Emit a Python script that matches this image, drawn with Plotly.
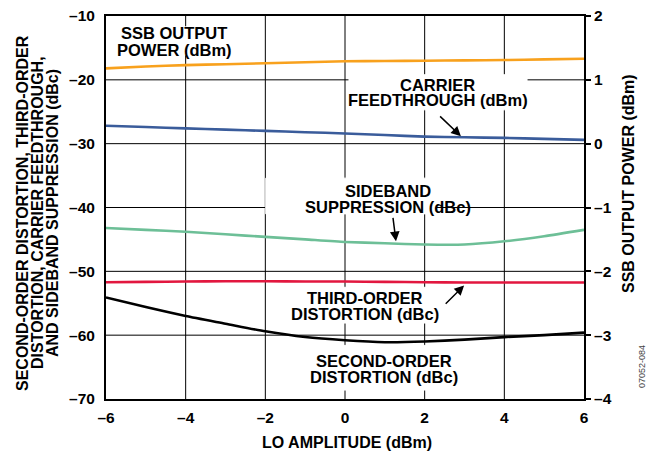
import plotly.graph_objects as go

lo_amplitude = [-6, -5, -4, -3, -2, -1, 0, 1, 2, 3, 4, 5, 6]
ssb_output_power = [1.18, 1.21, 1.23, 1.245, 1.26, 1.275, 1.29, 1.295, 1.30, 1.305, 1.31, 1.32, 1.33]
carrier_feedthrough = [-27.2, -27.4, -27.6, -27.8, -28.0, -28.2, -28.4, -28.65, -28.9, -29.0, -29.1, -29.25, -29.4]
sideband_suppression = [-43.2, -43.5, -43.8, -44.2, -44.6, -45.0, -45.4, -45.6, -45.8, -45.8, -45.3, -44.5, -43.5]
third_order = [-51.7, -51.65, -51.6, -51.55, -51.55, -51.6, -51.6, -51.65, -51.7, -51.75, -51.75, -51.75, -51.75]
second_order = [-54.1, -55.6, -57.0, -58.2, -59.4, -60.3, -60.8, -61.1, -61.0, -60.7, -60.3, -60.0, -59.6]

x_ticks = [-6, -4, -2, 0, 2, 4, 6]
y_left_ticks = [-70, -60, -50, -40, -30, -20, -10]
y_right_ticks = [-4, -3, -2, -1, 0, 1, 2]


def lab(v):
    return ("–" + str(abs(v))) if v < 0 else str(v)


FONT = "Liberation Sans, Arial, sans-serif"
fig = go.Figure()

# grid lines at the tick values (a trace beneath the data curves)
gx, gy = [], []
for v in x_ticks[1:-1]:
    gx += [v, v, None]
    gy += [y_left_ticks[0], y_left_ticks[-1], None]
for v in y_left_ticks[1:-1]:
    gx += [x_ticks[0], x_ticks[-1], None]
    gy += [v, v, None]
fig.add_trace(go.Scatter(x=gx, y=gy, mode="lines", hoverinfo="skip",
                         line=dict(color="black", width=1)))

line_kw = dict(shape="spline", smoothing=0.6, width=2.6)
fig.add_trace(go.Scatter(x=lo_amplitude, y=carrier_feedthrough, mode="lines",
                         line=dict(color="#3A5C9B", **line_kw)))
fig.add_trace(go.Scatter(x=lo_amplitude, y=sideband_suppression, mode="lines",
                         line=dict(color="#6DBF97", **line_kw)))
fig.add_trace(go.Scatter(x=lo_amplitude, y=third_order, mode="lines",
                         line=dict(color="#E2173F", **line_kw)))
fig.add_trace(go.Scatter(x=lo_amplitude, y=second_order, mode="lines",
                         line=dict(color="#000000", **line_kw)))
fig.add_trace(go.Scatter(x=lo_amplitude, y=ssb_output_power, mode="lines", yaxis="y2",
                         line=dict(color="#F8A11D", **line_kw)))

# white label boxes
shapes = []
boxes = [
    (-5.77, -2.76, -11.7, -16.1),
    (0.10, 4.57, -19.2, -24.7),
    (-1.99, 2.28, -35.4, -41.0),
    (-1.51, 2.39, -52.5, -58.1),
    (-1.0, 3.01, -61.6, -68.6),
]
for x0, x1, y0, y1 in boxes:
    shapes.append(dict(type="rect", xref="x", yref="y", x0=x0, x1=x1, y0=y0, y1=y1,
                       fillcolor="white", line=dict(color="white", width=1), layer="above"))

ann = []
AF = dict(family=FONT, size=16.5, color="black", weight="bold")


def txt(x, y, t):
    ann.append(dict(x=x, y=y, xref="x", yref="y", text=t, showarrow=False, font=AF))


txt(-4.29, -12.66, "SSB OUTPUT")
txt(-4.29, -15.33, "POWER (dBm)")
txt(2.33, -20.81, "CARRIER")
txt(2.33, -23.16, "FEEDTHROUGH (dBm)")
txt(1.08, -37.4, "SIDEBAND")
txt(1.08, -39.9, "SUPPRESSION (dBc)")
txt(0.50, -54.2, "THIRD-ORDER")
txt(0.50, -56.7, "DISTORTION (dBc)")
txt(0.98, -64.1, "SECOND-ORDER")
txt(0.98, -66.6, "DISTORTION (dBc)")


def arrow(xt, yt, xh, yh):
    ann.append(dict(x=xh, y=yh, ax=xt, ay=yt, xref="x", yref="y", axref="x", ayref="y",
                    text="", showarrow=True, arrowhead=2, arrowsize=1.3, arrowwidth=1.5,
                    arrowcolor="black", standoff=0, startstandoff=0))


arrow(2.35, -25.5, 2.91, -28.85)
arrow(1.20, -41.4, 1.28, -45.3)
arrow(2.49, -55.3, 2.99, -52.2)

# axis titles
TF = dict(family=FONT, size=16, color="black", weight="bold")
left_lines = ["SECOND-ORDER DISTORTION, THIRD-ORDER",
              "DISTORTION, CARRIER FEEDTHROUGH,",
              "AND SIDEBAND SUPPRESSION (dBc)"]
for t, px in zip(left_lines, [22, 37, 52]):
    ann.append(dict(x=(px - 106) / 478, y=(399 - 213) / 383,
                    xref="paper", yref="paper", text=t, showarrow=False, textangle=-90,
                    font=TF, xanchor="center", yanchor="middle"))
ann.append(dict(x=(628 - 106) / 478, y=(399 - 184) / 383, xref="paper", yref="paper",
                text="SSB OUTPUT POWER (dBm)", showarrow=False, textangle=-90, font=TF,
                xanchor="center", yanchor="middle"))
ann.append(dict(x=(347 - 106) / 478, y=(399 - 442) / 383, xref="paper", yref="paper",
                text="LO AMPLITUDE (dBm)", showarrow=False, font=TF,
                xanchor="center", yanchor="middle"))
ann.append(dict(x=(642 - 106) / 478, y=(399 - 367) / 383, xref="paper", yref="paper",
                text="07052-084", showarrow=False, textangle=-90,
                font=dict(family=FONT, size=9, color="#444"),
                xanchor="center", yanchor="middle"))

TK = dict(family=FONT, size=15.5, color="black", weight="bold")
fig.update_layout(
    width=647, height=453,
    margin=dict(l=106, r=63, t=16, b=54, autoexpand=False),
    paper_bgcolor="white", plot_bgcolor="white",
    showlegend=False,
    xaxis=dict(range=[-6, 6], tickvals=x_ticks, ticktext=[lab(v) for v in x_ticks],
               showgrid=False, zeroline=False,
               showline=True, linecolor="black", linewidth=2, mirror=True,
               ticks="outside", ticklen=3, tickcolor="rgba(0,0,0,0)", tickfont=TK),
    yaxis=dict(range=[-70, -10], tickvals=y_left_ticks, ticktext=[lab(v) for v in y_left_ticks],
               showgrid=False, zeroline=False,
               showline=True, linecolor="black", linewidth=2, mirror=True,
               ticks="outside", ticklen=6, tickcolor="rgba(0,0,0,0)", tickfont=TK),
    yaxis2=dict(range=[-4, 2], tickvals=y_right_ticks, ticktext=[lab(v) for v in y_right_ticks],
                overlaying="y", side="right", anchor="x", showgrid=False, zeroline=False,
                showline=False, ticks="outside", ticklen=6, tickwidth=1.5, tickcolor="black",
                tickfont=TK),
    shapes=shapes,
    annotations=ann,
)

fig.write_html("out.html", config={"displayModeBar": False},
               post_script="document.body.style.margin='0px';")
